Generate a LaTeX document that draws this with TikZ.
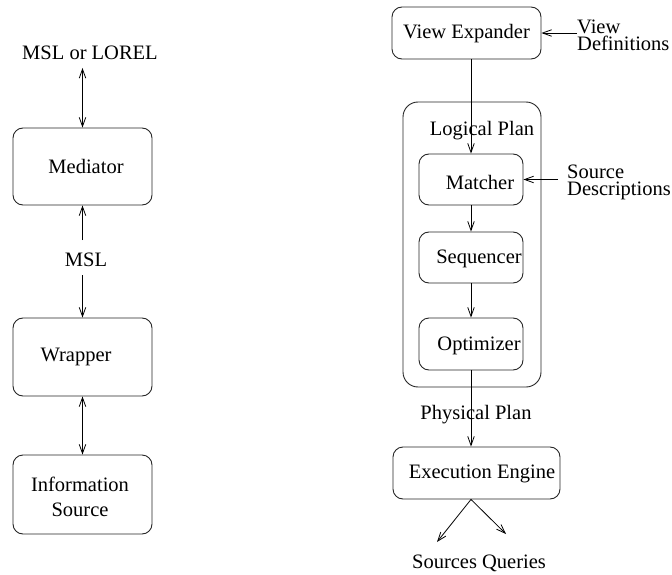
\documentclass[tikz,border=0pt]{standalone}
\usepackage{fontspec}
\setmainfont{Liberation Serif}
\usetikzlibrary{arrows.meta}
\begin{document}
\begin{tikzpicture}[x=1pt,y=-1pt,
  >={Straight Barb[length=9pt,width=6.5pt]},
  box/.style={draw=black!85, line width=0.9pt, rounded corners=10pt, inner sep=0pt},
  txt/.style={font=\fontsize{20.5}{25}\selectfont, inner sep=0pt, align=center},
  side/.style={txt, font=\fontsize{20.5}{17.5}\selectfont, anchor=west, align=left},
  every label/.style={txt},
  conn/.style={line width=0.8pt, ->},
  dconn/.style={line width=0.8pt, <->}]
\useasboundingbox (0,0) rectangle (672,575);

% ---------- left column: mediator architecture ----------
\node[txt] (lorel) at (90,53) {MSL or LOREL};
\node[box, minimum width=139pt, minimum height=77pt,
      label={[xshift=3.5pt]center:Mediator}] (med) at (82.5,166.5) {};
\node[txt] (msl) at (86,260) {MSL};
\node[box, minimum width=139pt, minimum height=78pt,
      label={[xshift=-6.5pt]center:Wrapper}] (wrap) at (82.5,357) {};
\node[box, minimum width=139pt, minimum height=79pt,
      label={[xshift=-2.5pt,yshift=-2pt]center:Information\\Source}] (info) at (82.5,494.5) {};

\coordinate (lorelfoot) at (82.5,68);
\coordinate (mslhead) at (82.5,240);
\coordinate (mslfoot) at (82.5,275);

\draw[dconn] (lorelfoot) -- (med.north);
\draw[conn] (mslhead) -- (med.south);
\draw[conn] (mslfoot) -- (wrap.north);
\draw[dconn] (wrap.south) -- (info.north);

% ---------- right column: mediator internals ----------
\node[box, minimum width=149pt, minimum height=52pt,
      label={[yshift=-1pt]center:View Expander}] (vexp) at (466.5,33) {};
\node[box, rounded corners=15pt, minimum width=138pt, minimum height=285pt] (logical) at (472,244.5) {};
\node[txt] (lp) at (482,131) {Logical Plan};
\node[box, minimum width=104pt, minimum height=51pt,
      label={[xshift=9pt,yshift=-3pt]center:Matcher}] (match) at (471,179.5) {};
\node[box, minimum width=104pt, minimum height=51pt,
      label={[xshift=8pt,yshift=-1pt]center:Sequencer}] (seq) at (471,257.5) {};
\node[box, minimum width=104pt, minimum height=52pt,
      label={[xshift=8pt,yshift=-2pt]center:Optimizer}] (opt) at (471,344) {};
\node[txt] (pp) at (476,415) {Physical Plan};
\node[box, minimum width=167pt, minimum height=52pt,
      label={[xshift=5.5pt,yshift=-1pt]center:Execution Engine}] (eng) at (476.5,473) {};
\node[txt] (sq) at (479,563) {Sources Queries};

\node[side] (vdef) at (577,35.5) {View\\Definitions};
\node[side] (sdesc) at (567,182.5) {Source\\Descriptions};

\coordinate (fork) at (eng.south -| opt.south);
\coordinate (qleft) at (437,542);
\coordinate (qright) at (506,534);

\draw[conn] (vdef.west |- vexp.east) -- (vexp.east);
\draw[conn] ([xshift=-9pt]sdesc.west |- match.east) -- (match.east);
\draw[conn] (match.north |- vexp.south) -- (match.north);
\draw[conn] (match.south) -- (seq.north);
\draw[conn] (seq.south) -- (opt.north);
\draw[conn] (opt.south) -- (opt.south |- eng.north);
\draw[conn] (fork) -- (qleft);
\draw[conn] (fork) -- (qright);
\end{tikzpicture}
\end{document}
